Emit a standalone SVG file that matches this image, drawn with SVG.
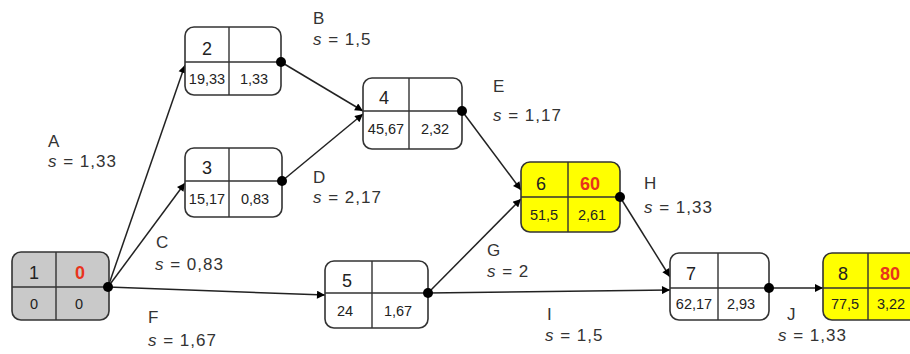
<svg xmlns="http://www.w3.org/2000/svg" width="910" height="354" viewBox="0 0 910 354">
  <style>
    .box { fill: #ffffff; stroke: #333333; stroke-width: 1.6; }
    .box.grey { fill: #c9c9c9; }
    .box.hot { fill: #ffff00; }
    .div { stroke: #333333; stroke-width: 1.4; fill: none; }
    .num { font-family: "Liberation Sans", Arial, sans-serif; font-size: 18px; fill: #222222; text-anchor: middle; }
    .red { fill: #e8341c; font-weight: bold; }
    .small { font-family: "Liberation Sans", Arial, sans-serif; font-size: 14.5px; fill: #222222; text-anchor: middle; }
    .lbl { font-family: "Liberation Sans", Arial, sans-serif; font-size: 17px; fill: #333333; letter-spacing: 1px; }
    .lbl .s { font-style: italic; }
    .edge { stroke: #222222; stroke-width: 1.5; fill: none; marker-end: url(#arrow); }
    .dot { fill: #000000; }
  </style>
  <defs>
    <marker id="arrow" viewBox="0 0 10 10" refX="10" refY="5" markerWidth="10" markerHeight="8" markerUnits="userSpaceOnUse" orient="auto">
      <path d="M0,0 L10,5 L0,10 z" fill="#000000"/>
    </marker>
  </defs>

  <!-- connectors -->
  <g id="edges">
    <line class="edge" x1="108" y1="287" x2="185" y2="65"/>
    <line class="edge" x1="108" y1="287" x2="185" y2="183"/>
    <line class="edge" x1="108" y1="287" x2="325" y2="295"/>
    <line class="edge" x1="281" y1="62" x2="363" y2="111"/>
    <line class="edge" x1="282" y1="181" x2="363" y2="114"/>
    <line class="edge" x1="462" y1="111" x2="521" y2="190"/>
    <line class="edge" x1="428" y1="293" x2="521" y2="199"/>
    <line class="edge" x1="620" y1="197" x2="670" y2="277"/>
    <line class="edge" x1="428" y1="293" x2="670" y2="290"/>
    <line class="edge" x1="769" y1="288" x2="823" y2="288"/>
  </g>

  <!-- activity labels -->
  <g id="labels">
    <text class="lbl" x="48" y="147">A</text>
    <text class="lbl" x="48" y="167"><tspan class="s">s</tspan> = 1,33</text>
    <text class="lbl" x="313" y="24">B</text>
    <text class="lbl" x="313" y="45"><tspan class="s">s</tspan> = 1,5</text>
    <text class="lbl" x="156" y="248">C</text>
    <text class="lbl" x="155" y="270"><tspan class="s">s</tspan> = 0,83</text>
    <text class="lbl" x="313" y="183">D</text>
    <text class="lbl" x="313" y="203"><tspan class="s">s</tspan> = 2,17</text>
    <text class="lbl" x="493" y="92">E</text>
    <text class="lbl" x="493" y="121"><tspan class="s">s</tspan> = 1,17</text>
    <text class="lbl" x="148" y="323">F</text>
    <text class="lbl" x="148" y="346"><tspan class="s">s</tspan> = 1,67</text>
    <text class="lbl" x="487" y="256">G</text>
    <text class="lbl" x="487" y="277"><tspan class="s">s</tspan> = 2</text>
    <text class="lbl" x="644" y="189">H</text>
    <text class="lbl" x="644" y="213"><tspan class="s">s</tspan> = 1,33</text>
    <text class="lbl" x="547" y="320">I</text>
    <text class="lbl" x="545" y="341"><tspan class="s">s</tspan> = 1,5</text>
    <text class="lbl" x="787" y="320">J</text>
    <text class="lbl" x="778" y="341"><tspan class="s">s</tspan> = 1,33</text>
  </g>

  <!-- event nodes -->
  <g id="node1">
    <rect class="box grey" x="12" y="252" width="97" height="68" rx="9"/>
    <path class="div" d="M56,252 V320 M12,287 H109"/>
    <text class="num" x="34" y="279">1</text>
    <text class="num red" x="80" y="279">0</text>
    <text class="small" x="34" y="309">0</text>
    <text class="small" x="79" y="309">0</text>
    <circle class="dot" cx="108" cy="287" r="5"/>
  </g>
  <g id="node2">
    <rect class="box" x="185" y="27" width="96" height="68" rx="9"/>
    <path class="div" d="M229,27 V95 M185,62 H281"/>
    <text class="num" x="207" y="55">2</text>
    <text class="small" x="207" y="84">19,33</text>
    <text class="small" x="254" y="84">1,33</text>
    <circle class="dot" cx="281" cy="62" r="5"/>
  </g>
  <g id="node3">
    <rect class="box" x="185" y="148" width="97" height="69" rx="9"/>
    <path class="div" d="M229,148 V217 M185,181 H282"/>
    <text class="num" x="207" y="174">3</text>
    <text class="small" x="207" y="204">15,17</text>
    <text class="small" x="255" y="204">0,83</text>
    <circle class="dot" cx="282" cy="181" r="5"/>
  </g>
  <g id="node4">
    <rect class="box" x="363" y="78" width="99" height="71" rx="9"/>
    <path class="div" d="M409,78 V149 M363,111 H462"/>
    <text class="num" x="384" y="104">4</text>
    <text class="small" x="386" y="134">45,67</text>
    <text class="small" x="435" y="134">2,32</text>
    <circle class="dot" cx="462" cy="111" r="5"/>
  </g>
  <g id="node5">
    <rect class="box" x="325" y="261" width="103" height="67" rx="9"/>
    <path class="div" d="M372,261 V328 M325,293 H428"/>
    <text class="num" x="347" y="287">5</text>
    <text class="small" x="345" y="316">24</text>
    <text class="small" x="398" y="316">1,67</text>
    <circle class="dot" cx="428" cy="293" r="5"/>
  </g>
  <g id="node6">
    <rect class="box hot" x="521" y="162" width="99" height="70" rx="9"/>
    <path class="div" d="M568,162 V232 M521,197 H620"/>
    <text class="num" x="541" y="190">6</text>
    <text class="num red" x="590" y="190">60</text>
    <text class="small" x="544" y="220">51,5</text>
    <text class="small" x="592" y="220">2,61</text>
    <circle class="dot" cx="620" cy="197" r="5"/>
  </g>
  <g id="node7">
    <rect class="box" x="670" y="253" width="99" height="67" rx="9"/>
    <path class="div" d="M718,253 V320 M670,288 H769"/>
    <text class="num" x="691" y="280">7</text>
    <text class="small" x="694" y="309">62,17</text>
    <text class="small" x="741" y="309">2,93</text>
    <circle class="dot" cx="769" cy="288" r="5"/>
  </g>
  <g id="node8">
    <rect class="box hot" x="823" y="253" width="100" height="67" rx="9"/>
    <path class="div" d="M868,253 V320 M823,288 H923"/>
    <text class="num" x="843" y="280">8</text>
    <text class="num red" x="890" y="280">80</text>
    <text class="small" x="845" y="309">77,5</text>
    <text class="small" x="891" y="309">3,22</text>
  </g>
</svg>
